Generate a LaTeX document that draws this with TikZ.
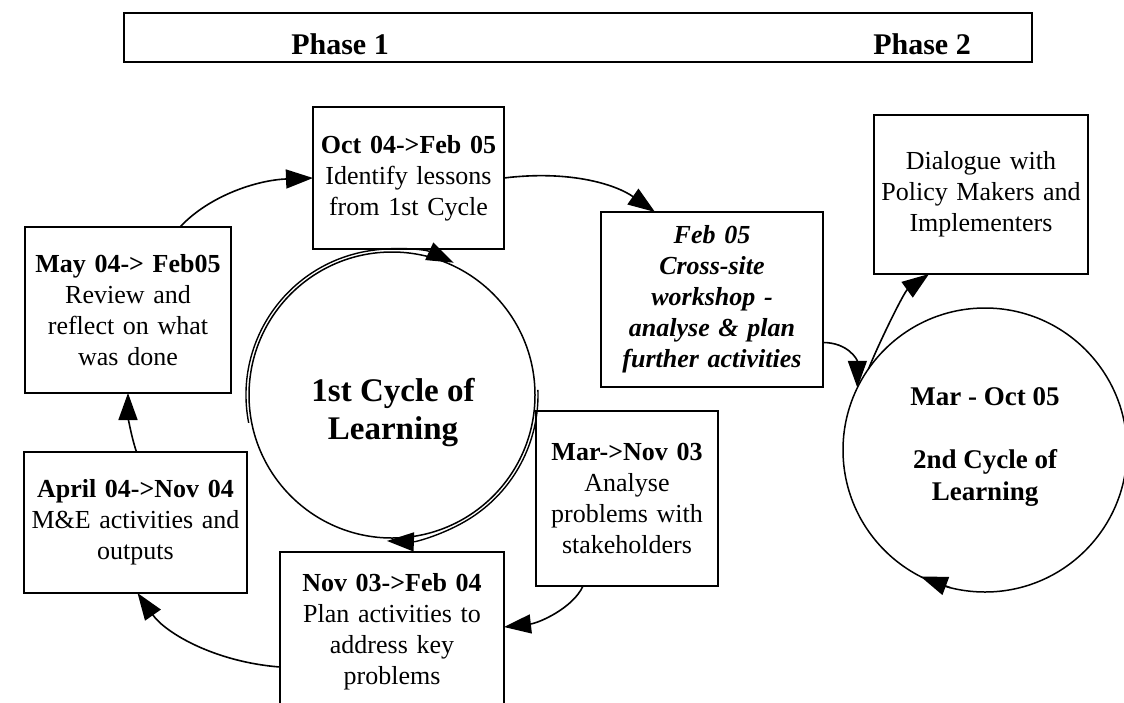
\documentclass[tikz,border=0pt]{standalone}
\usepackage{fontspec}
\setmainfont{Liberation Serif}
\usetikzlibrary{arrows.meta,calc}

\begin{document}
\begin{tikzpicture}[x=1pt,y=-1pt,
  box/.style={draw, line width=1.8pt, rectangle, inner sep=0pt, outer sep=0pt,
              align=center, font=\fontsize{26}{31}\selectfont},
  cyc/.style={draw, circle, line width=1.5pt, inner sep=0pt, outer sep=0pt},
  tip/.style={-{Triangle[length=27pt,width=19pt]}},
  link/.style={line width=1.6pt, tip},
  heading/.style={font=\bfseries\fontsize{30}{34}\selectfont, anchor=base},
]
\useasboundingbox (0,0) rectangle (1124,702);
\clip (0,0) rectangle (1124,702);

% phase banner
\node[draw, line width=1.8pt, minimum width=908pt, minimum height=49pt,
      inner sep=0pt, outer sep=0pt] (band) at (578,37.5) {};
\node[heading] (ph1) at (340,54) {Phase 1};
\node[heading] (ph2) at (922,54) {Phase 2};

% activity boxes
\node[box, minimum width=191pt, text width=191pt, minimum height=142pt] (oct) at (408.5,178)
  {\textbf{Oct 04->Feb 05}\\Identify lessons\\from 1st Cycle};
\node[box, minimum width=206pt, text width=206pt, minimum height=166pt] (may) at (128,310)
  {\textbf{May 04-> Feb05}\\Review and\\reflect on what\\was done};
\node[box, minimum width=223pt, text width=223pt, minimum height=141pt] (apr) at (135.5,522.5)
  {\textbf{April 04->Nov 04}\\M\&E activities and\\outputs};
\node[box, minimum width=224pt, text width=224pt, minimum height=160pt] (nov) at (392,632)
  {\textbf{Nov 03->Feb 04}\\Plan activities to\\address key\\problems};
\node[box, minimum width=182pt, text width=182pt, minimum height=175pt] (mar) at (627,498.5)
  {\textbf{Mar->Nov 03}\\Analyse\\problems with\\stakeholders};
\node[box, minimum width=222pt, text width=222pt, minimum height=175pt,
      font=\bfseries\itshape\fontsize{26}{31}\selectfont] (feb) at (712,299.5)
  {Feb 05\\Cross-site\\workshop -\\analyse \& plan\\further activities};
\node[box, minimum width=214pt, text width=214pt, minimum height=159pt] (dia) at (981,194.5)
  {Dialogue with\\Policy Makers and\\Implementers};

% learning cycles
\node[cyc, minimum size=286pt] (c1) at (392,395) {};
\node[font=\bfseries\fontsize{33}{38}\selectfont, align=center] (c1t) at (393,413)
  {1st Cycle of\\Learning};
\node[cyc, minimum size=284pt] (c2) at (985,450) {};
\node[font=\bfseries\fontsize{27}{31.5}\selectfont, align=center] (c2t) at (985,447)
  {Mar - Oct 05\\[31.5pt]2nd Cycle of\\Learning};

% clockwise arrows running round the first cycle
\begin{scope}[shift={(c1.center)}, y=1pt]
  \draw[line width=1.4pt, tip] (191:146) arc[start angle=191, end angle=65, radius=146];
  \draw[line width=1.4pt, tip] (2:146) arc[start angle=2, end angle=-92, radius=146];
\end{scope}
% direction marker on the second cycle
\draw[line width=1.5pt, tip] (c2.256) -- (c2.243);

% connectors between the stages
\draw[link] ($(may.north)+(52,0)$) .. controls +(30,-32) and +(-55,2) .. (oct.west);
\draw[link] (oct.east) .. controls +(65,-8) and +(-40,-28) .. ($(feb.north)+(-57,0)$);
\draw[link] ($(feb.east)+(0,43)$) .. controls +(25,0) and +(0,-28) .. (c2.154);
\draw[link] (c2.145) .. controls +(10,-25) and +(-25,18) .. ($(dia.south)+(-52,0)$);
\draw[link] ($(mar.south)+(-44,0)$) .. controls +(-10,22) and +(35,-4) .. ($(nov.east)+(0,-5)$);
\draw[link] ($(nov.west)+(0,35)$) .. controls +(-65,-5) and +(28,40) .. ($(apr.south)+(2,0)$);
\draw[link] ($(apr.north)+(1,0)$) .. controls +(-6,-18) and +(0,22) .. (may.south);
\end{tikzpicture}
\end{document}
